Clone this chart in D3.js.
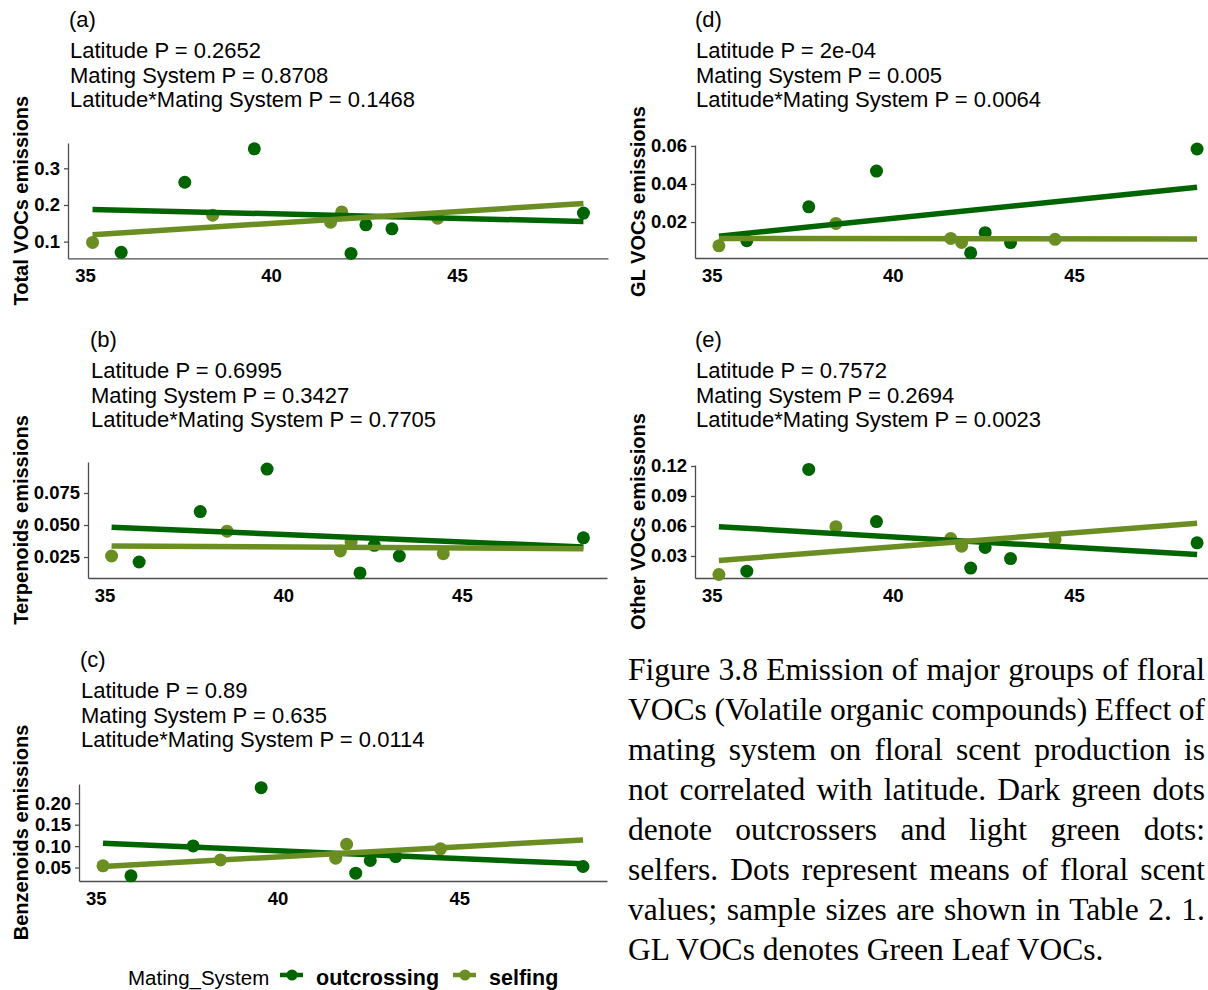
<!DOCTYPE html>
<html>
<head>
<meta charset="utf-8">
<script src="https://cdn.jsdelivr.net/npm/d3@7"></script>
<style>
  body { margin: 0; background: #fff; }
  svg { display: block; }
</style>
</head>
<body>
<div id="chart"></div>
<script>
// Latitude of each population
const latOut = [35.97, 37.68, 39.55, 42.15, 42.55, 43.25, 48.4];
const latSelf = [35.2, 38.43, 41.6, 41.9, 44.48];
const fitLat = [35.2, 48.4];
const xTicks = [35, 40, 45];

// (a) total VOCs
const totalOut = [0.071, 0.262, 0.353, 0.068, 0.146, 0.135, 0.178];
const totalSelf = [0.098, 0.172, 0.153, 0.181, 0.164];
const totalFitOut = [0.188, 0.155];
const totalFitSelf = [0.119, 0.204];
const totalTicks = [0.1, 0.2, 0.3];
const totalP = ["Latitude P = 0.2652", "Mating System P = 0.8708", "Latitude*Mating System P = 0.1468"];

// (b) terpenoids
const terpOut = [0.0211, 0.0605, 0.0937, 0.0126, 0.0341, 0.0258, 0.0400];
const terpSelf = [0.0258, 0.0452, 0.0297, 0.0367, 0.0276];
const terpFitOut = [0.0483, 0.0328];
const terpFitSelf = [0.0336, 0.0315];
const terpTicks = [0.025, 0.05, 0.075];
const terpP = ["Latitude P = 0.6995", "Mating System P = 0.3427", "Latitude*Mating System P = 0.7705"];

// (c) benzenoids
const benzOut = [0.0306, 0.1005, 0.2365, 0.0368, 0.0664, 0.0757, 0.0524];
const benzSelf = [0.054, 0.0679, 0.0718, 0.1044, 0.0936];
const benzFitOut = [0.1068, 0.0586];
const benzFitSelf = [0.0524, 0.1145];
const benzTicks = [0.05, 0.10, 0.15, 0.20];
const benzP = ["Latitude P = 0.89", "Mating System P = 0.635", "Latitude*Mating System P = 0.0114"];

// (d) green leaf VOCs
const glOut = [0.0102, 0.028, 0.0468, 0.0038, 0.0144, 0.0092, 0.0584];
const glSelf = [0.0075, 0.0193, 0.0114, 0.0093, 0.0109];
const glFitOut = [0.0126, 0.0383];
const glFitSelf = [0.0114, 0.0111];
const glTicks = [0.02, 0.04, 0.06];
const glP = ["Latitude P = 2e-04", "Mating System P = 0.005", "Latitude*Mating System P = 0.0064"];

// (e) other VOCs
const otherOut = [0.0148, 0.1166, 0.0644, 0.0179, 0.0385, 0.0274, 0.0432];
const otherSelf = [0.0115, 0.0593, 0.0475, 0.0398, 0.0465];
const otherFitOut = [0.0593, 0.0314];
const otherFitSelf = [0.0256, 0.0627];
const otherTicks = [0.03, 0.06, 0.09, 0.12];
const otherP = ["Latitude P = 0.7572", "Mating System P = 0.2694", "Latitude*Mating System P = 0.0023"];

const groups = ["outcrossing", "selfing"];
const caption = [
  "Figure 3.8 Emission of major groups of floral",
  "VOCs (Volatile organic compounds) Effect of",
  "mating system on floral scent production is",
  "not correlated with latitude. Dark green dots",
  "denote outcrossers and light green dots:",
  "selfers. Dots represent means of floral scent",
  "values; sample sizes are shown in Table 2. 1.",
  "GL VOCs denotes Green Leaf VOCs."
];

const colOut = "#006400", colSelf = "#6b8e23";
const sans = "'Liberation Sans', Arial, sans-serif";

const svg = d3.select("#chart")
  .append("svg")
  .attr("width", 1208)
  .attr("height", 990);

// panel layout
const panels = [
  { tag: "(a)", title: "Total VOCs emissions", out: totalOut, self: totalSelf, fitOut: totalFitOut, fitSelf: totalFitSelf,
    ticks: totalTicks, fmt: ".1f", p: totalP, yDom: [0.0546, 0.369], x0: 68, x1: 608, yb: 258.3, yt: 143, tx: 69, ty: 27, titleX: 28 },
  { tag: "(b)", title: "Terpenoids emissions", out: terpOut, self: terpSelf, fitOut: terpFitOut, fitSelf: terpFitSelf,
    ticks: terpTicks, fmt: ".3f", p: terpP, yDom: [0.0086, 0.0992], x0: 88, x1: 607, yb: 578, yt: 462, tx: 90, ty: 347, titleX: 28 },
  { tag: "(c)", title: "Benzenoids emissions", out: benzOut, self: benzSelf, fitOut: benzFitOut, fitSelf: benzFitSelf,
    ticks: benzTicks, fmt: ".2f", p: benzP, yDom: [0.0186, 0.245], x0: 79, x1: 607, yb: 881, yt: 784, tx: 80, ty: 667, titleX: 28 },
  { tag: "(d)", title: "GL VOCs emissions", out: glOut, self: glSelf, fitOut: glFitOut, fitSelf: glFitSelf,
    ticks: glTicks, fmt: ".2f", p: glP, yDom: [0.0011, 0.0605], x0: 695, x1: 1221, yb: 258, yt: 145, tx: 695, ty: 27, titleX: 645 },
  { tag: "(e)", title: "Other VOCs emissions", out: otherOut, self: otherSelf, fitOut: otherFitOut, fitSelf: otherFitSelf,
    ticks: otherTicks, fmt: ".2f", p: otherP, yDom: [0.008, 0.121], x0: 695, x1: 1221, yb: 578, yt: 465, tx: 695, ty: 347, titleX: 645 }
];

panels.forEach(pn => {
  const g = svg.append("g");
  const x = d3.scaleLinear().domain([34.54, 49.06]).range([pn.x0, pn.x1]);
  const y = d3.scaleLinear().domain(pn.yDom).range([pn.yb, pn.yt]);

  // axes
  g.append("g")
    .attr("transform", `translate(${pn.x0},0)`)
    .call(d3.axisLeft(y).tickValues(pn.ticks).tickFormat(d3.format(pn.fmt)).tickSize(4).tickSizeOuter(0).tickPadding(4));
  g.append("g")
    .attr("transform", `translate(0,${pn.yb})`)
    .call(d3.axisBottom(x).tickValues(xTicks).tickFormat(d3.format("d")).tickSize(0).tickSizeOuter(0).tickPadding(11));

  g.selectAll(".domain, .tick line").attr("stroke", "#4d4d4d").attr("stroke-width", 1.3);
  g.selectAll(".tick text")
    .attr("fill", "#000")
    .attr("font-family", sans)
    .attr("font-weight", "bold")
    .attr("font-size", 18.5);

  // points
  g.selectAll(".pt-out").data(pn.out).enter().append("circle")
    .attr("cx", (d, i) => x(latOut[i]))
    .attr("cy", d => y(d))
    .attr("r", 6.5)
    .attr("fill", colOut);
  g.selectAll(".pt-self").data(pn.self).enter().append("circle")
    .attr("cx", (d, i) => x(latSelf[i]))
    .attr("cy", d => y(d))
    .attr("r", 6.5)
    .attr("fill", colSelf);

  // fitted lines
  const line = d3.line().x((d, i) => x(fitLat[i])).y(d => y(d));
  g.append("path").attr("d", line(pn.fitOut)).attr("stroke", colOut).attr("stroke-width", 5.5).attr("fill", "none");
  g.append("path").attr("d", line(pn.fitSelf)).attr("stroke", colSelf).attr("stroke-width", 5.5).attr("fill", "none");

  // y title
  g.append("text")
    .attr("transform", `translate(${pn.titleX},${(pn.yb + pn.yt) / 2}) rotate(-90)`)
    .attr("text-anchor", "middle")
    .attr("font-family", sans)
    .attr("font-weight", "bold")
    .attr("font-size", 20)
    .text(pn.title);

  // tag and P values
  g.append("text")
    .attr("x", pn.tx).attr("y", pn.ty)
    .attr("font-family", sans).attr("font-size", 22)
    .text(pn.tag);
  g.selectAll(".pv").data(pn.p).enter().append("text")
    .attr("x", pn.tx + 1)
    .attr("y", (d, i) => pn.ty + 31 + i * 24.5)
    .attr("font-family", sans).attr("font-size", 22)
    .text(d => d);
});

// legend
const leg = svg.append("g");
leg.append("text").attr("x", 128).attr("y", 985)
  .attr("font-family", sans).attr("font-size", 20.5).text("Mating_System");
const legX = [280, 453];
groups.forEach((name, i) => {
  const c = i === 0 ? colOut : colSelf;
  leg.append("line").attr("x1", legX[i]).attr("x2", legX[i] + 23).attr("y1", 975).attr("y2", 975)
    .attr("stroke", c).attr("stroke-width", 4.5);
  leg.append("circle").attr("cx", legX[i] + 12).attr("cy", 975).attr("r", 5.5).attr("fill", c);
  leg.append("text").attr("x", legX[i] + 36).attr("y", 985)
    .attr("font-family", sans).attr("font-weight", "bold").attr("font-size", 21.5).text(name);
});

// caption, justified to fit inside the page
const cap = svg.append("g");
const capWidth = 577;
caption.forEach((t, i) => {
  const txt = cap.append("text")
    .attr("x", 628).attr("y", 680 + i * 40)
    .attr("font-family", "'Liberation Serif', 'Times New Roman', serif")
    .attr("font-size", 31.5)
    .text(t);
  if (i < caption.length - 1) {
    const w = txt.node().getComputedTextLength();
    const n = t.split(" ").length - 1;
    txt.style("word-spacing", `${(capWidth - w) / n}px`);
  }
});
</script>
</body>
</html>
